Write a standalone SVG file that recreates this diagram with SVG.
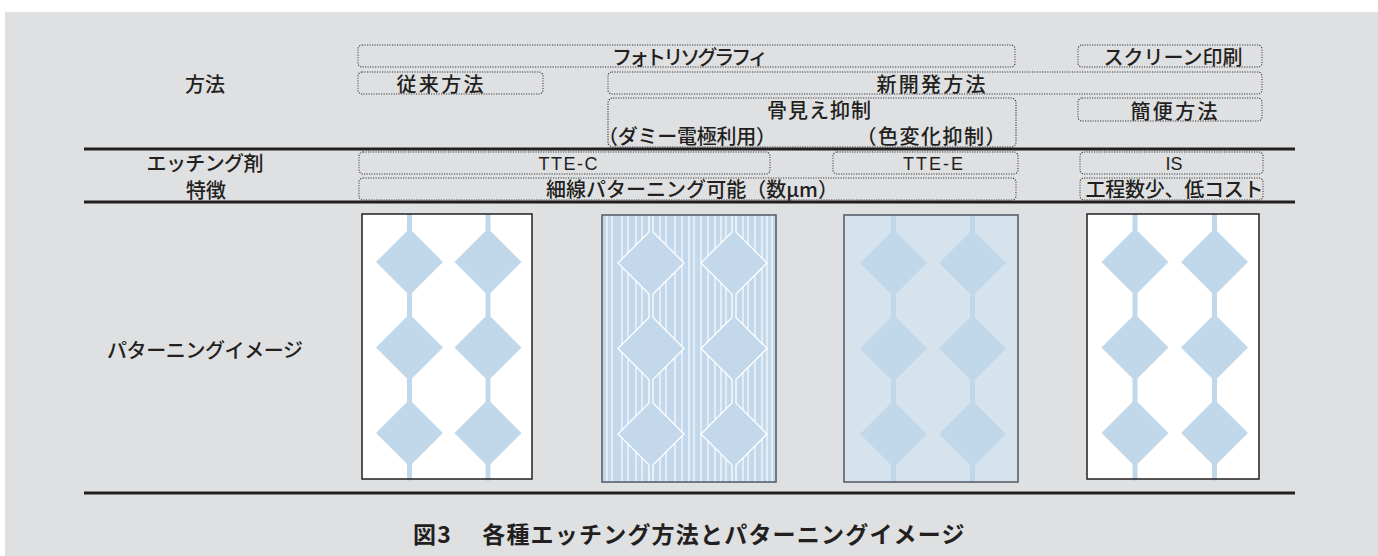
<svg xmlns="http://www.w3.org/2000/svg" xmlns:xlink="http://www.w3.org/1999/xlink" width="1378" height="556" viewBox="0 0 1378 556">
<style>
.t{font-family:'Noto Sans CJK JP','Noto Sans',sans-serif;fill:#231f20;font-size:20px;font-weight:500;text-anchor:middle}
.lat{font-family:'Liberation Sans',Arial,sans-serif;fill:#231f20;font-size:18px;text-anchor:middle}
.box{fill:none;stroke:#3a3a3a;stroke-width:1.1;stroke-dasharray:1.2 1.3}
.rule{stroke:#231f20;stroke-width:3}
.el{fill:#c1d7ea}
.stripe{stroke:#ffffff;stroke-width:1.1}
</style>
<defs>
<path id="chain" d="M-2.5,0 V17 L-33.5,48 L-2.5,79 V102.5 L-33.5,133.5 L-2.5,164.5 V188 L-33.5,219 L-2.5,250 V267 H2.5 V250 L33.5,219 L2.5,188 V164.5 L33.5,133.5 L2.5,102.5 V79 L33.5,48 L2.5,17 V0 Z"/>
<path id="chain2" d="M-2,-2 V17 L-33,48 L-2,79 V102.5 L-33,133.5 L-2,164.5 V188 L-33,219 L-2,250 V270 H2 V250 L33,219 L2,188 V164.5 L33,133.5 L2,102.5 V79 L33,48 L2,17 V-2 Z"/>
<clipPath id="clip2"><rect x="602" y="215" width="174" height="267"/></clipPath>
</defs>
<rect x="5" y="12" width="1373" height="544" fill="#dfe0e2"/>

<g id="table-lines">
<line class="rule" x1="84" y1="149" x2="1295" y2="149"/>
<line class="rule" x1="84" y1="202" x2="1295" y2="202"/>
<line class="rule" x1="84" y1="493" x2="1295" y2="493"/>
</g>
<g id="connectors"/>

<g id="row-labels">
<text class="t" x="205" y="92" font-size="22">方法</text>
<text class="t" x="205" y="171" font-size="19" textLength="117">エッチング剤</text>
<text class="t" x="206" y="198" font-size="21">特徴</text>
<text class="t" x="205" y="358" font-size="19" textLength="196">パターニングイメージ</text>
</g>

<g id="node-photolitho">
<rect class="box" x="358" y="45" width="657" height="22" rx="4"/>
<text class="t" x="690" y="65" font-size="18" textLength="156">フォトリソグラフィ</text>
</g>
<g id="node-screen">
<rect class="box" x="1078" y="45" width="184" height="22" rx="4"/>
<text class="t" x="1173" y="65" font-size="19" textLength="139">スクリーン印刷</text>
</g>
<g id="node-conventional">
<rect class="box" x="358" y="72" width="185" height="22" rx="4"/>
<text class="t" x="440" y="92" textLength="87">従来方法</text>
</g>
<g id="node-new">
<rect class="box" x="608" y="72" width="654" height="22" rx="4"/>
<text class="t" x="931" y="92" textLength="109">新開発方法</text>
</g>
<g id="node-bone">
<rect class="box" x="608" y="98" width="408" height="49" rx="5"/>
<text class="t" x="819" y="118" textLength="104">骨見え抑制</text>
<text class="t" x="687" y="144" textLength="178">（ダミー電極利用）</text>
<text class="t" x="931" y="144" textLength="149">（色変化抑制）</text>
</g>
<g id="node-simple">
<rect class="box" x="1078" y="98" width="184" height="23" rx="4"/>
<text class="t" x="1174" y="119" textLength="87">簡便方法</text>
</g>
<g id="node-ttec">
<rect class="box" x="359" y="152" width="411" height="22" rx="4"/>
<text class="lat" x="568" y="170" textLength="59">TTE-C</text>
</g>
<g id="node-ttee">
<rect class="box" x="833" y="152" width="185" height="22" rx="4"/>
<text class="lat" x="933" y="170" textLength="60">TTE-E</text>
</g>
<g id="node-is">
<rect class="box" x="1080" y="152" width="183" height="22" rx="4"/>
<text class="lat" x="1174" y="170">IS</text>
</g>
<g id="node-fine">
<rect class="box" x="359" y="178" width="657" height="22" rx="4"/>
<text class="t" x="692" y="197" textLength="292">細線パターニング可能（数μm）</text>
</g>
<g id="node-lowcost">
<rect class="box" x="1080" y="178" width="183" height="22" rx="4"/>
<text class="t" x="1174.5" y="197" textLength="178">工程数少、低コスト</text>
</g>

<g id="image-ttec">
<rect x="362" y="214" width="170" height="265" fill="#ffffff"/>
<use xlink:href="#chain" href="#chain" class="el" transform="translate(409.5,214)"/>
<use xlink:href="#chain" href="#chain" class="el" transform="translate(488,214)"/>
<rect x="362" y="214" width="170" height="265" fill="none" stroke="#231f20" stroke-width="1.5"/>
</g>

<g id="image-dummy">
<rect x="602" y="215" width="174" height="267" fill="#c3d8ea"/>
<g clip-path="url(#clip2)">
<g class="stripe">
<line x1="607" y1="215" x2="607" y2="482"/><line x1="612" y1="215" x2="612" y2="482"/>
<line x1="622" y1="215" x2="622" y2="482"/><line x1="628" y1="215" x2="628" y2="482"/>
<line x1="636" y1="215" x2="636" y2="482"/><line x1="642" y1="215" x2="642" y2="482"/>
<line x1="660" y1="215" x2="660" y2="482"/><line x1="666" y1="215" x2="666" y2="482"/>
<line x1="675" y1="215" x2="675" y2="482"/><line x1="682" y1="215" x2="682" y2="482"/>
<line x1="689" y1="215" x2="689" y2="482"/><line x1="694" y1="215" x2="694" y2="482"/>
<line x1="701" y1="215" x2="701" y2="482"/><line x1="708" y1="215" x2="708" y2="482"/>
<line x1="715" y1="215" x2="715" y2="482"/><line x1="721" y1="215" x2="721" y2="482"/>
<line x1="726" y1="215" x2="726" y2="482"/>
<line x1="743" y1="215" x2="743" y2="482"/><line x1="748" y1="215" x2="748" y2="482"/>
<line x1="755" y1="215" x2="755" y2="482"/><line x1="762" y1="215" x2="762" y2="482"/>
<line x1="767" y1="215" x2="767" y2="482"/><line x1="772" y1="215" x2="772" y2="482"/>
</g>
<use xlink:href="#chain2" href="#chain2" fill="#c3d8ea" stroke="#ffffff" stroke-width="1.3" transform="translate(651,215)"/>
<use xlink:href="#chain2" href="#chain2" fill="#c3d8ea" stroke="#ffffff" stroke-width="1.3" transform="translate(734,215)"/>
</g>
<rect x="602" y="215" width="174" height="267" fill="none" stroke="#4f5763" stroke-width="1.5"/>
</g>

<g id="image-ttee">
<rect x="844" y="215" width="174" height="267" fill="#d6e2ec"/>
<use xlink:href="#chain" href="#chain" class="el" transform="translate(893.5,215)"/>
<use xlink:href="#chain" href="#chain" class="el" transform="translate(972.5,215)"/>
<rect x="844" y="215" width="174" height="267" fill="none" stroke="#4f5763" stroke-width="1.5"/>
</g>

<g id="image-is">
<rect x="1087" y="214" width="172" height="265" fill="#ffffff"/>
<use xlink:href="#chain" href="#chain" class="el" transform="translate(1135,214)"/>
<use xlink:href="#chain" href="#chain" class="el" transform="translate(1214.5,214)"/>
<rect x="1087" y="214" width="172" height="265" fill="none" stroke="#231f20" stroke-width="1.5"/>
</g>

<g id="caption">
<text x="413" y="543" font-family="'Noto Sans CJK JP','Noto Sans',sans-serif" font-weight="700" font-size="23" fill="#231f20" letter-spacing="1.2">図3<tspan dx="6">　各種エッチング方法とパターニングイメージ</tspan></text>
</g>
</svg>
